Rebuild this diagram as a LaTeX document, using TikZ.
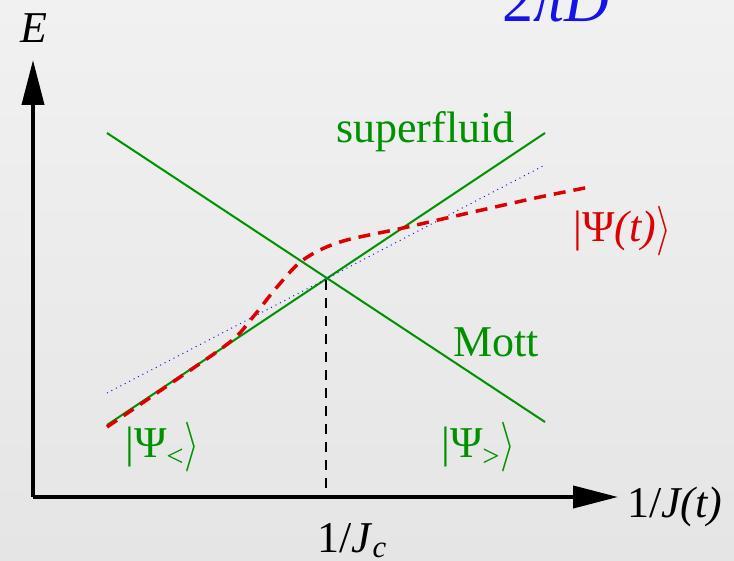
\documentclass[tikz,border=0pt]{standalone}
\usepackage{fontspec}
\setmainfont{Liberation Serif}
\usetikzlibrary{arrows.meta}
\definecolor{bgtop}{RGB}{241,241,241}
\definecolor{bgbot}{RGB}{229,229,229}
\definecolor{lgreen}{RGB}{0,145,0}
\definecolor{lred}{RGB}{220,0,0}
\definecolor{lblue}{RGB}{20,20,230}
\newcommand{\ketend}{\raisebox{-2pt}{\scalebox{1.55}[2.0]{$\rangle$}}}

\begin{document}
\begin{tikzpicture}[
  x=1pt, y=-1pt,
  axis/.style={line width=4pt, -{Triangle[length=45pt, width=22pt]}},
  level/.style={draw=lgreen, line width=2pt},
  lbl/.style={inner sep=0pt, anchor=base west, font=\fontsize{44}{50}\selectfont}
]

  % Hintergrund
  \shade[top color=bgtop, bottom color=bgbot] (0,0) rectangle (734,561);
  \useasboundingbox (0,0) rectangle (734,561);

  % Achsen
  \coordinate (O) at (33,497);
  \coordinate (ytop) at (33,60);
  \coordinate (xend) at (618,497);
  \draw[axis] (O) -- (ytop);
  \draw[axis] (O) -- (xend);

  % Energieniveaus
  \coordinate (m1) at (107,133);
  \coordinate (m2) at (545,422);
  \coordinate (s1) at (107,425);
  \coordinate (s2) at (545,133);
  \coordinate (cross) at (326,280);
  \coordinate (jc) at (326,497);
  \draw[level] (m1) -- (m2);
  \draw[level] (s1) -- (s2);
  \draw[line width=2.5pt, dash pattern=on 10pt off 8pt] (cross) -- (jc);

  % adiabatische Naeherung
  \coordinate (d1) at (107,393);
  \coordinate (d2) at (543,166);
  \draw[draw=lblue, line width=1pt, dash pattern=on 1pt off 4pt] (d1) -- (d2);

  % Zustand |Psi(t)>
  \draw[draw=lred, line width=3.5pt, dash pattern=on 12pt off 8pt]
    plot[smooth, tension=0.55] coordinates {(107,427) (170,384) (230,342) (253,317)
      (277,287) (303,260) (340,242) (403,228) (473,212) (540,197) (590,187)};

  % Beschriftungen
  \node[lbl, anchor=base] (E) at (34,43) {\textit{E}};
  \node[lbl] (xlab) at (627,517) {1/\textit{J(t)}};
  \node[lbl] (jclab) at (317,552) {1/\textit{J}\textsubscript{\textit{c}}};
  \node[lbl, text=lgreen] (sf) at (336,143) {superfluid};
  \node[lbl, text=lgreen] (mott) at (453,357) {Mott};
  \node[lbl, text=lgreen] (psil) at (125,457) {|Ψ\textsubscript{<}\ketend};
  \node[lbl, text=lgreen] (psir) at (441,457) {|Ψ\textsubscript{>}\ketend};
  \node[lbl, text=lred] (psit) at (573,242) {|Ψ\textit{(t)}\ketend};
  \node[lbl, text=lblue, font=\fontsize{62}{70}\selectfont] (top) at (502,22) {2\textit{πD}};

\end{tikzpicture}
\end{document}
